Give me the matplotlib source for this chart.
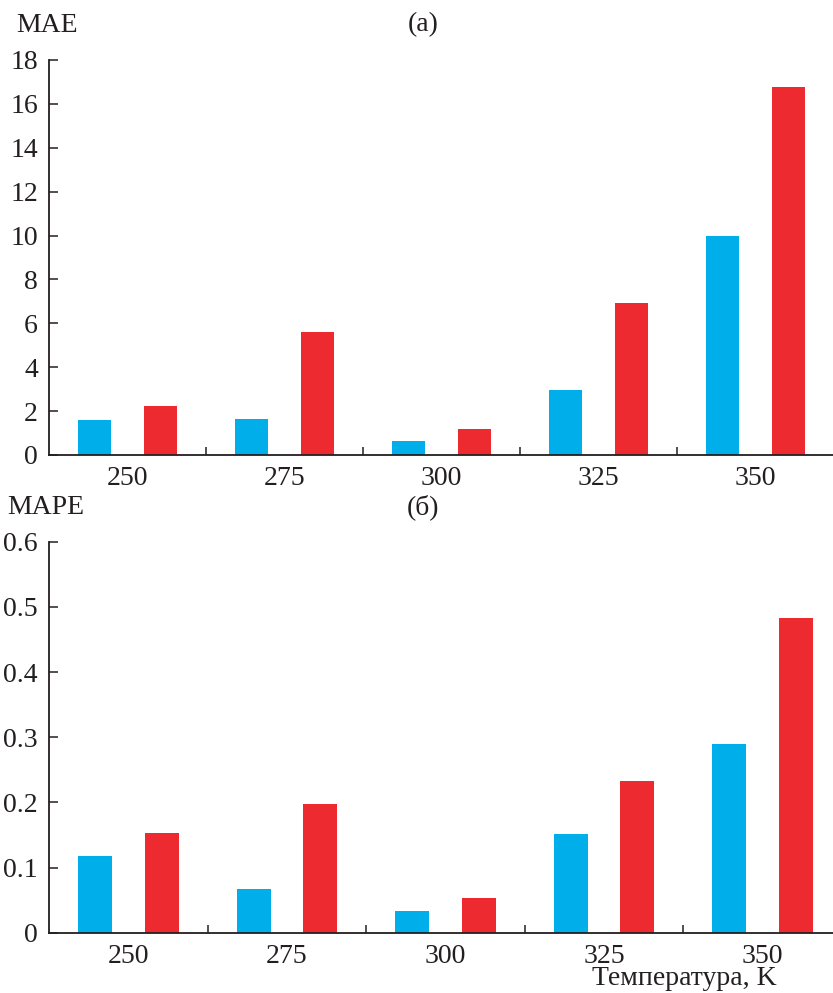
import numpy as np
import matplotlib.pyplot as plt
from matplotlib.ticker import FixedLocator

temps = ["250", "275", "300", "325", "350"]
mae_blue = [1.60, 1.63, 0.64, 2.96, 9.98]
mae_red = [2.25, 5.62, 1.17, 6.91, 16.76]
mape_blue = [0.118, 0.067, 0.034, 0.152, 0.290]
mape_red = [0.153, 0.197, 0.054, 0.233, 0.483]

blue = "#00AFEA"
red = "#EC2A30"
ink = "#231F20"

plt.rcParams['font.family'] = ['Liberation Serif', 'DejaVu Serif']
plt.rcParams['font.size'] = 20
plt.rcParams['text.color'] = ink
plt.rcParams['axes.edgecolor'] = ink
plt.rcParams['xtick.color'] = ink
plt.rcParams['ytick.color'] = ink

fig = plt.figure(figsize=(8.33, 9.93), dpi=100)
ax1 = fig.add_axes([0.0588, 0.5418, 0.9424, 0.3978])
ax2 = fig.add_axes([0.0588, 0.0607, 0.952, 0.3938])

x = np.arange(len(temps))
w = 0.215
off = 0.21


def style(ax, blues, reds, ymax, yticks, ylabels):
    ax.bar(x - off, blues, w, color=blue)
    ax.bar(x + off, reds, w, color=red)
    ax.set_xlim(-0.5, len(temps) - 0.5)
    ax.set_ylim(0, ymax)
    for s in ["top", "right"]:
        ax.spines[s].set_visible(False)
    for s in ["left", "bottom"]:
        ax.spines[s].set_linewidth(1.3)
    ax.set_xticks(x)
    ax.set_xticklabels(temps)
    ax.xaxis.set_minor_locator(FixedLocator(x[:-1] + 0.5))
    ax.tick_params(axis="x", which="major", length=0, pad=8)
    ax.tick_params(axis="x", which="minor", direction="in", length=6, width=1.1)
    ax.set_yticks(yticks)
    ax.set_yticklabels(ylabels)
    ax.tick_params(axis="y", direction="in", length=6.5, width=1.1, pad=8)


style(ax1, mae_blue, mae_red, 18, np.arange(0, 19, 2),
      [str(v) for v in range(0, 19, 2)])
style(ax2, mape_blue, mape_red, 0.6, np.arange(0, 0.61, 0.1),
      ["0", "0.1", "0.2", "0.3", "0.4", "0.5", "0.6"])

fig.text(16 / 833, 1 - 25 / 993, "MAE", ha="left", va="center")
fig.text(423 / 833, 1 - 25 / 993, "(а)", ha="center", va="center")
fig.text(7 / 833, 1 - 507 / 993, "MAPE", ha="left", va="center")
fig.text(423 / 833, 1 - 507 / 993, "(б)", ha="center", va="center")
fig.text(684 / 833, 1 - 991 / 993, "Температура, K", ha="center", va="bottom")

fig.savefig("out.png", dpi=100)
